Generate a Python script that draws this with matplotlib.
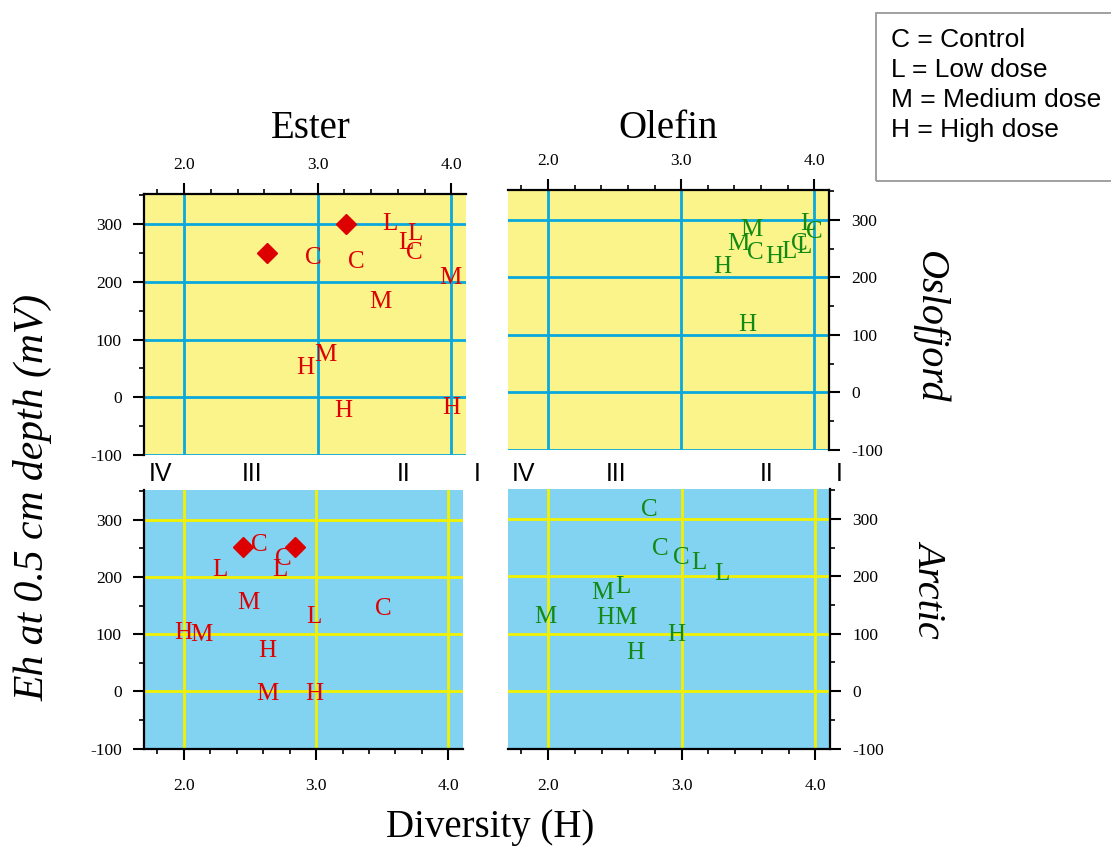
import matplotlib
matplotlib.use("Agg")
import matplotlib.pyplot as plt
from matplotlib.ticker import MultipleLocator
from matplotlib.transforms import blended_transform_factory
from matplotlib.patches import Rectangle

plt.rcParams['font.family'] = 'Liberation Serif'
plt.rcParams['axes.unicode_minus'] = False

# colours
yellow_bg = '#fbf48a'
blue_bg = '#82d2f1'
blue_grid = '#0aa8dc'
yellow_grid = '#f2f200'
red = '#dd0000'
green = '#138a13'

# Ester / Oslofjord
es_os_lab = ['C', 'C', 'C', 'L', 'L', 'L', 'M', 'M', 'M', 'H', 'H', 'H']
es_os_x = [2.97, 3.29, 3.72, 3.54, 3.73, 3.66, 3.99, 3.47, 3.06, 2.91, 3.19, 4.00]
es_os_y = [245, 239, 255, 304, 287, 272, 210, 170, 78, 55, -20, -14]
es_os_dx = [2.62, 3.21]
es_os_dy = [249, 300]

# Olefin / Oslofjord
ol_os_lab = ['L', 'M', 'M', 'C', 'H', 'L', 'C', 'L', 'C', 'H', 'H']
ol_os_x = [3.95, 3.43, 3.53, 3.56, 3.70, 3.81, 3.89, 3.92, 4.00, 3.31, 3.50]
ol_os_y = [298, 263, 286, 246, 240, 249, 262, 258, 284, 222, 121]

# Ester / Arctic
es_ar_lab = ['C', 'C', 'C', 'L', 'L', 'L', 'M', 'M', 'M', 'H', 'H', 'H']
es_ar_x = [2.57, 2.75, 3.51, 2.27, 2.73, 2.98, 2.49, 2.13, 2.63, 2.00, 2.63, 2.99]
es_ar_y = [261, 235, 149, 216, 216, 134, 159, 103, 0, 106, 75, 0]
es_ar_dx = [2.45, 2.84]
es_ar_dy = [252, 252]

# Olefin / Arctic
ol_ar_lab = ['C', 'C', 'C', 'L', 'L', 'L', 'M', 'M', 'M', 'H', 'H', 'H']
ol_ar_x = [2.76, 2.84, 3.00, 3.13, 3.30, 2.56, 2.41, 1.98, 2.58, 2.43, 2.96, 2.65]
ol_ar_y = [320, 251, 236, 228, 209, 186, 176, 134, 131, 131, 102, 71]

roman = ['IV', 'III', 'II', 'I']
roman_x = [1.82, 2.51, 3.64, 4.19]

legend_lines = ['C = Control', 'L = Low dose', 'M = Medium dose', 'H = High dose']

W, H = 1111, 847
fig = plt.figure(figsize=(W / 100, H / 100), dpi=100)


def px_axes(x0, y0, x1, y1):
    return fig.add_axes([x0 / W, 1 - y1 / H, (x1 - x0) / W, (y1 - y0) / H])


def setup(ax, bg, gridcol, top_row, left_col):
    ax.set_facecolor(bg)
    ax.set_xlim(1.70, 4.11)
    ax.set_ylim(-100, 352)
    ax.set_xticks([2, 3, 4])
    ax.set_xticklabels(['2.0', '3.0', '4.0'])
    ax.xaxis.set_minor_locator(MultipleLocator(0.2))
    ax.set_yticks([-100, 0, 100, 200, 300])
    ax.yaxis.set_minor_locator(MultipleLocator(50))
    ax.set_axisbelow(True)
    ax.grid(True, which='major', color=gridcol, lw=2)
    for s in ax.spines.values():
        s.set_linewidth(1.6)
    ax.spines['top'].set_visible(top_row)
    ax.spines['bottom'].set_visible(not top_row)
    ax.spines['left'].set_visible(left_col)
    ax.spines['right'].set_visible(not left_col)
    ax.tick_params(which='both', direction='out', top=top_row, bottom=not top_row,
                   labeltop=top_row, labelbottom=not top_row,
                   left=left_col, right=not left_col,
                   labelleft=left_col, labelright=not left_col, labelsize=12.5)
    ax.tick_params(which='major', length=8, width=1.5)
    ax.tick_params(which='minor', length=3.6, width=1.2)
    if top_row:
        ax.tick_params(axis='x', which='major', pad=7)
    else:
        ax.tick_params(axis='x', which='major', pad=13)
    ax.tick_params(axis='y', which='major', pad=8)


def letters(ax, labs, xs, ys, col):
    for l, x, y in zip(labs, xs, ys):
        ax.text(x, y, l, color=col, fontsize=18, ha='center', va='center_baseline', zorder=4)


ax1 = px_axes(144, 194, 466, 455)
setup(ax1, yellow_bg, blue_grid, True, True)
ax1.plot(es_os_dx, es_os_dy, 'D', color=red, ms=10, ls='none', zorder=3)
letters(ax1, es_os_lab, es_os_x, es_os_y, red)

ax2 = px_axes(508, 190, 829, 450)
setup(ax2, yellow_bg, blue_grid, True, False)
letters(ax2, ol_os_lab, ol_os_x, ol_os_y, green)

ax3 = px_axes(144, 490, 463, 748.5)
setup(ax3, blue_bg, yellow_grid, False, True)
ax3.plot(es_ar_dx, es_ar_dy, 'D', color=red, ms=10, ls='none', zorder=3)
letters(ax3, es_ar_lab, es_ar_x, es_ar_y, red)

ax4 = px_axes(508, 489, 830, 748.5)
setup(ax4, blue_bg, yellow_grid, False, False)
letters(ax4, ol_ar_lab, ol_ar_x, ol_ar_y, green)

# roman numerals between the rows
for ax in [ax1, ax2]:
    tr = blended_transform_factory(ax.transData, fig.transFigure)
    for r, x in zip(roman, roman_x):
        fig.text(x, 1 - 474 / H, r, transform=tr, ha='center', va='center',
                 fontsize=18, family='Liberation Sans')

# titles and labels
fig.text(311 / W, 1 - 128 / H, 'Ester', ha='center', va='center', fontsize=28)
fig.text(668 / W, 1 - 128 / H, 'Olefin', ha='center', va='center', fontsize=28)
fig.text(490 / W, 1 - 827 / H, 'Diversity (H)', ha='center', va='center', fontsize=28)
fig.text(33 / W, 1 - 497 / H, 'Eh at 0.5 cm depth (mV)', rotation=90, style='italic',
         ha='center', va='center', fontsize=30)
fig.text(930 / W, 1 - 327 / H, 'Oslofjord', rotation=270, style='italic',
         ha='center', va='center', fontsize=29)
fig.text(930 / W, 1 - 588 / H, 'Arctic', rotation=270, style='italic',
         ha='center', va='center', fontsize=29)

# legend box
rect = Rectangle((876 / W, 1 - 181 / H), (W - 876 + 10) / W, (181 - 13) / H,
                 transform=fig.transFigure, fill=False, edgecolor='#999999', lw=1.3)
fig.add_artist(rect)
for i, t in enumerate(legend_lines):
    fig.text(891 / W, 1 - (40 + 30 * i) / H, t, ha='left', va='center',
             fontsize=19, family='Liberation Sans')

plt.savefig('out.png', dpi=100)
